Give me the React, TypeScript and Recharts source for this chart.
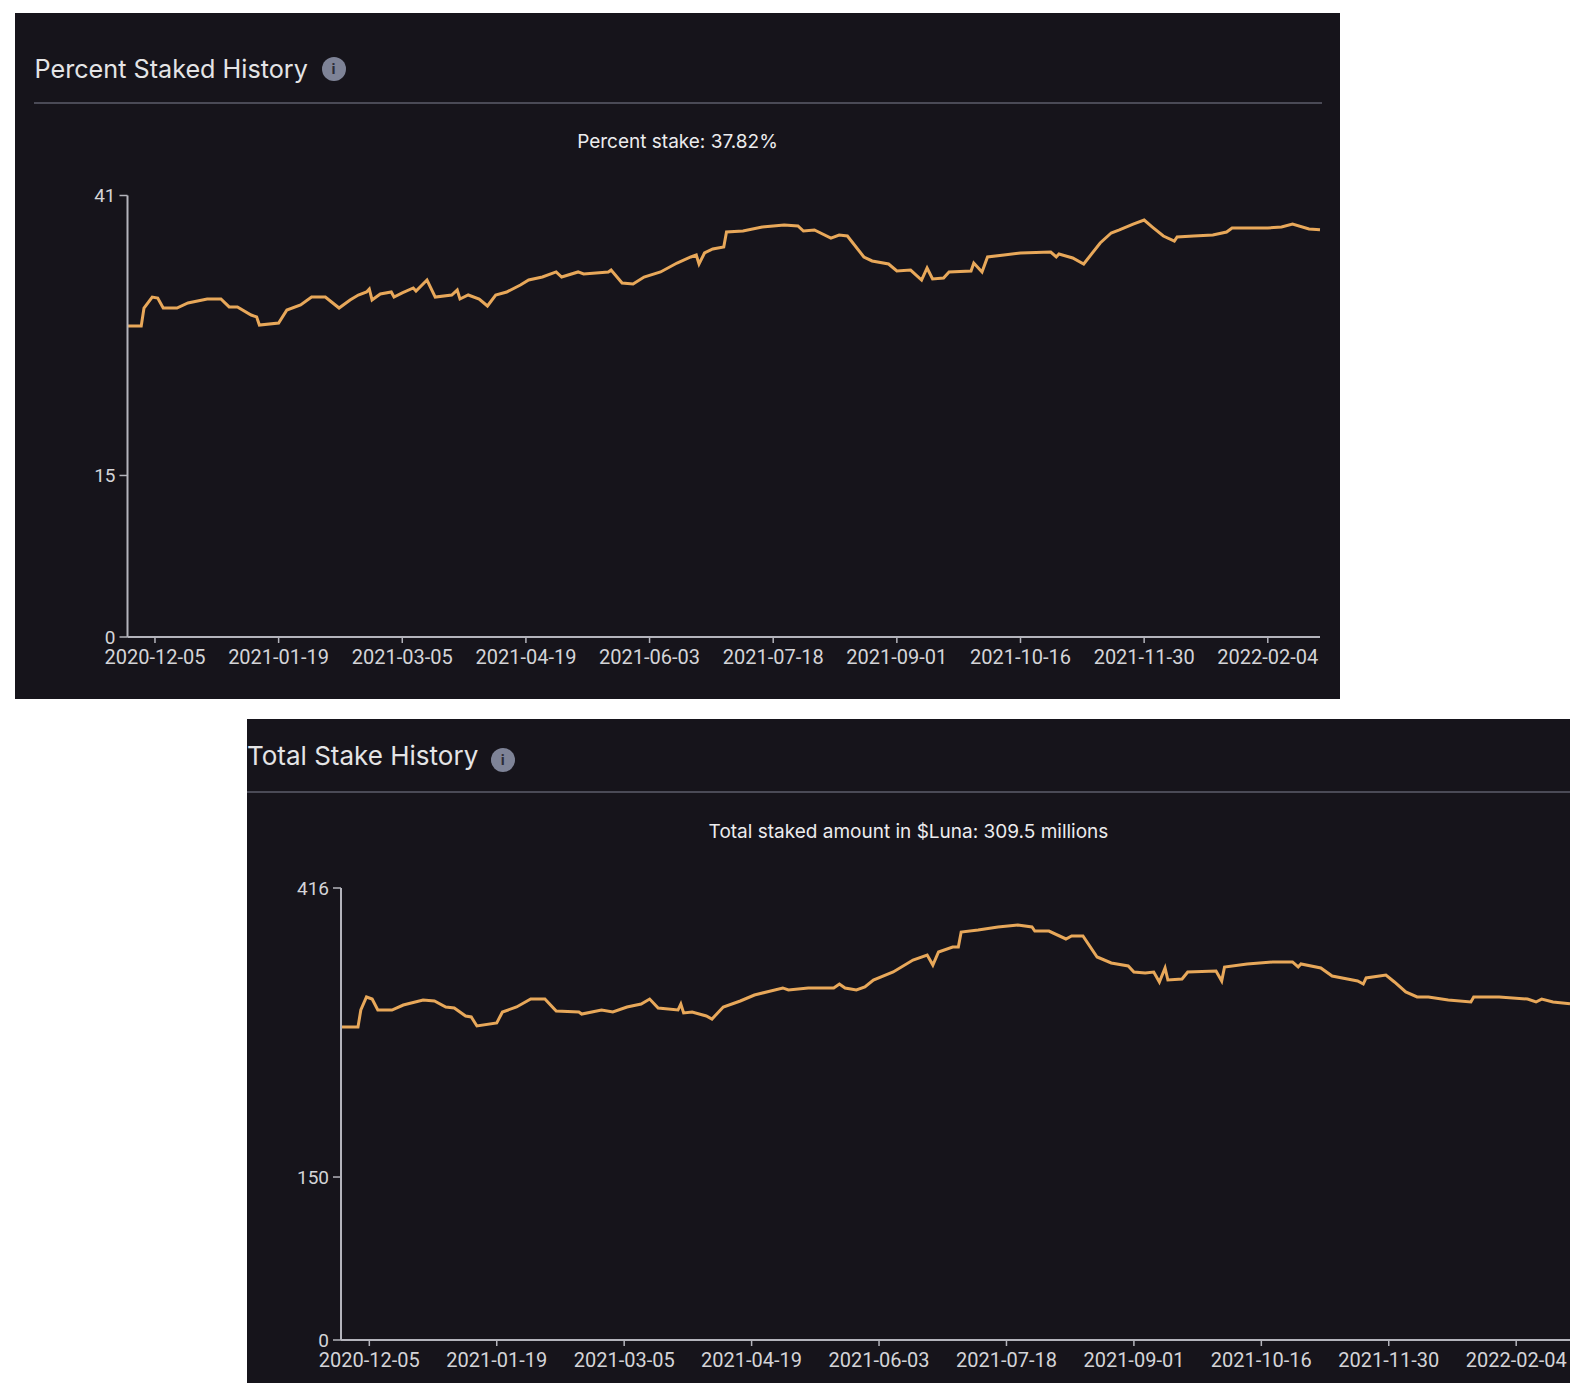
import React from 'react';
import { LineChart, Line, XAxis, YAxis } from 'recharts';

// x positions are sample indices along the (categorical-looking) date axis
const tickIndex = [10, 55, 100, 145, 190, 235, 280, 325, 370, 415];
const tickLabels = [
  '2020-12-05', '2021-01-19', '2021-03-05', '2021-04-19', '2021-06-03',
  '2021-07-18', '2021-09-01', '2021-10-16', '2021-11-30', '2022-02-04',
];

const percentTicks = [0, 15, 41];
const totalTicks = [0, 150, 416];

// [sample index, percent staked]
const percentPoints: [number, number][] = [
  [0, 28.88], [5, 28.88], [6, 30.55], [9, 31.57], [11, 31.48], [13, 30.55], [18, 30.55], [22, 31.02],
  [29, 31.39], [34, 31.39], [37, 30.65], [40, 30.65], [45, 29.9], [47, 29.72], [48, 28.97], [55, 29.16],
  [58, 30.37], [63, 30.83], [67, 31.57], [72, 31.57], [77, 30.55], [81, 31.3], [84, 31.76], [87, 32.04],
  [88, 32.32], [89, 31.3], [92, 31.85], [96, 32.04], [97, 31.57], [100, 31.95], [104, 32.41], [105, 32.13],
  [109, 33.15], [112, 31.57], [118, 31.76], [120, 32.22], [121, 31.39], [124, 31.76], [128, 31.39], [131, 30.74],
  [134, 31.76], [138, 32.04], [143, 32.69], [146, 33.15], [151, 33.43], [156, 33.9], [158, 33.43], [164, 33.9],
  [166, 33.71], [175, 33.9], [176, 34.08], [180, 32.87], [184, 32.78], [188, 33.43], [194, 33.9], [200, 34.73],
  [205, 35.29], [207, 35.47], [208, 34.64], [210, 35.66], [213, 36.03], [217, 36.22], [218, 37.61], [224, 37.7],
  [231, 38.07], [239, 38.26], [244, 38.17], [246, 37.7], [250, 37.8], [256, 37.05], [259, 37.33], [262, 37.24],
  [268, 35.29], [271, 34.92], [277, 34.64], [280, 33.99], [285, 34.08], [289, 33.15], [291, 34.27], [293, 33.25],
  [297, 33.34], [299, 33.9], [307, 33.99], [308, 34.73], [311, 33.9], [313, 35.29], [319, 35.47], [325, 35.66],
  [336, 35.75], [338, 35.29], [339, 35.57], [344, 35.2], [348, 34.64], [354, 36.59], [358, 37.52], [361, 37.8],
  [366, 38.35], [370, 38.72], [373, 38.07], [377, 37.24], [381, 36.77], [382, 37.15], [388, 37.24], [395, 37.33],
  [400, 37.61], [402, 37.98], [415, 37.98], [420, 38.07], [424, 38.35], [430, 37.89], [434, 37.82],
];

// [sample index, total staked (millions of LUNA)]
const totalPoints: [number, number][] = [
  [0, 288.1], [6, 288.1], [7, 303.7], [9, 315.7], [11, 313.8], [13, 303.7], [18, 303.7], [22, 308.3],
  [29, 312.9], [33, 312.0], [37, 306.5], [40, 305.6], [44, 298.2], [46, 297.3], [48, 289.0], [55, 291.8],
  [57, 301.9], [62, 306.5], [67, 313.8], [72, 313.8], [76, 302.8], [84, 301.9], [85, 300.0], [92, 303.7],
  [96, 301.9], [101, 306.5], [106, 309.2], [109, 313.8], [112, 305.6], [119, 303.7], [120, 309.2], [121, 301.0],
  [124, 301.9], [129, 298.2], [131, 295.4], [135, 306.5], [141, 312.0], [146, 317.5], [156, 324.0], [158, 322.1],
  [165, 324.0], [174, 324.0], [176, 327.6], [178, 324.0], [182, 322.1], [185, 324.9], [188, 331.3], [195, 338.7],
  [202, 349.7], [207, 354.3], [209, 345.1], [211, 357.1], [216, 361.7], [218, 361.7], [219, 375.5], [225, 377.3],
  [232, 380.1], [239, 381.9], [244, 380.1], [245, 376.4], [250, 376.4], [256, 369.1], [258, 371.8], [262, 371.8],
  [267, 352.5], [272, 347.0], [278, 344.2], [280, 338.7], [284, 337.8], [287, 338.7], [289, 329.5], [291, 342.4],
  [292, 331.3], [297, 332.2], [299, 338.7], [309, 339.6], [311, 330.4], [312, 343.3], [320, 346.1], [329, 347.9],
  [336, 347.9], [338, 343.3], [339, 346.1], [346, 342.4], [350, 335.0], [359, 330.4], [361, 327.6], [362, 333.2],
  [369, 335.9], [372, 329.5], [376, 320.3], [380, 315.7], [384, 315.7], [391, 312.9], [399, 311.1], [400, 315.7],
  [409, 315.7], [419, 313.8], [422, 311.1], [424, 313.8], [428, 311.1], [434, 309.5],
];

const percentData = percentPoints.map(([i, v]) => ({ i, v }));
const totalData = totalPoints.map(([i, v]) => ({ i, v }));

const BG = '#16141b';
const LINE = '#e8a85a';
const AXIS = '#b4b4bc';
const TICK = '#d4d4d8';
const FONT = 'Roboto, "Noto Sans", sans-serif';
const HEAD_FONT = 'Inter, Roboto, sans-serif';

const fmtX = (v: number) => {
  const k = tickIndex.indexOf(v);
  return k >= 0 ? tickLabels[k] : '';
};

function InfoIcon({ left, top }: { left: number; top: number }) {
  return (
    <div
      style={{
        position: 'absolute', left, top, width: 24, height: 24, borderRadius: 12,
        background: '#7e8397', color: '#2c2c38', fontFamily: FONT, fontWeight: 700,
        fontSize: 15, lineHeight: '24px', textAlign: 'center',
      }}
    >
      i
    </div>
  );
}

function Chart({ data, width, height, margin, yTicks, yMax }: any) {
  return (
    <LineChart width={width} height={height} data={data} margin={margin}>
      <XAxis
        dataKey="i" type="number" domain={[0, 434]} ticks={tickIndex} interval={0}
        tickFormatter={fmtX} height={40} tickSize={6} tickMargin={7}
        axisLine={{ stroke: AXIS, strokeWidth: 2 }} tickLine={{ stroke: AXIS, strokeWidth: 1.5 }}
        tick={{ fill: TICK, fontSize: 20, fontFamily: FONT }}
      />
      <YAxis
        type="number" domain={[0, yMax]} ticks={yTicks} interval={0} width={60}
        tickSize={8} tickMargin={4}
        axisLine={{ stroke: AXIS, strokeWidth: 2 }} tickLine={{ stroke: AXIS, strokeWidth: 1.5 }}
        tick={{ fill: TICK, fontSize: 19, fontFamily: FONT }}
      />
      <Line
        dataKey="v" type="linear" stroke={LINE} strokeWidth={3} dot={false}
        activeDot={false} isAnimationActive={false}
      />
    </LineChart>
  );
}

export default function App() {
  const titleStyle: React.CSSProperties = {
    position: 'absolute', fontFamily: HEAD_FONT, fontSize: 26, lineHeight: '26px',
    color: '#e4e4e6', whiteSpace: 'nowrap',
  };
  const subStyle: React.CSSProperties = {
    position: 'absolute', left: 0, width: '100%', textAlign: 'center', fontFamily: HEAD_FONT,
    fontSize: 19, lineHeight: '20px', color: '#ececee', whiteSpace: 'nowrap',
  };
  return (
    <div style={{ position: 'absolute', left: 0, top: 0, width: 1588, height: 1400, background: '#ffffff' }}>
      {/* Top panel */}
      <div style={{ position: 'absolute', left: 15, top: 13, width: 1325, height: 686, background: BG, overflow: 'hidden' }}>
        <div style={{ position: 'absolute', left: 0, top: 0 }}>
          <Chart
            data={percentData} width={1325} height={686}
            margin={{ top: 182.5, right: 20, bottom: 22, left: 52.5 }}
            yTicks={percentTicks} yMax={41}
          />
        </div>
        <div style={{ ...titleStyle, fontSize: 25.2, left: 19.5, top: 42.5 }}>Percent Staked History</div>
        <InfoIcon left={306.5} top={44.3} />
        <div style={{ position: 'absolute', left: 19.3, top: 89, width: 1287.4, height: 2, background: '#4a4a56' }} />
        <div style={{ ...subStyle, top: 118.8 }}>Percent stake: 37.82%</div>
      </div>

      {/* Bottom panel */}
      <div style={{ position: 'absolute', left: 247, top: 719, width: 1323, height: 664, background: BG, overflow: 'hidden' }}>
        <div style={{ position: 'absolute', left: 0, top: 0 }}>
          <Chart
            data={totalData} width={1323} height={664}
            margin={{ top: 169, right: 0, bottom: 3, left: 34 }}
            yTicks={totalTicks} yMax={416}
          />
        </div>
        <div style={{ ...titleStyle, left: 0, top: 24 }}>Total Stake History</div>
        <InfoIcon left={243.7} top={29} />
        <div style={{ position: 'absolute', left: 0, top: 71.5, width: 1323, height: 2, background: '#4a4a56' }} />
        <div style={{ ...subStyle, top: 103 }}>Total staked amount in $Luna: 309.5 millions</div>
      </div>
    </div>
  );
}
